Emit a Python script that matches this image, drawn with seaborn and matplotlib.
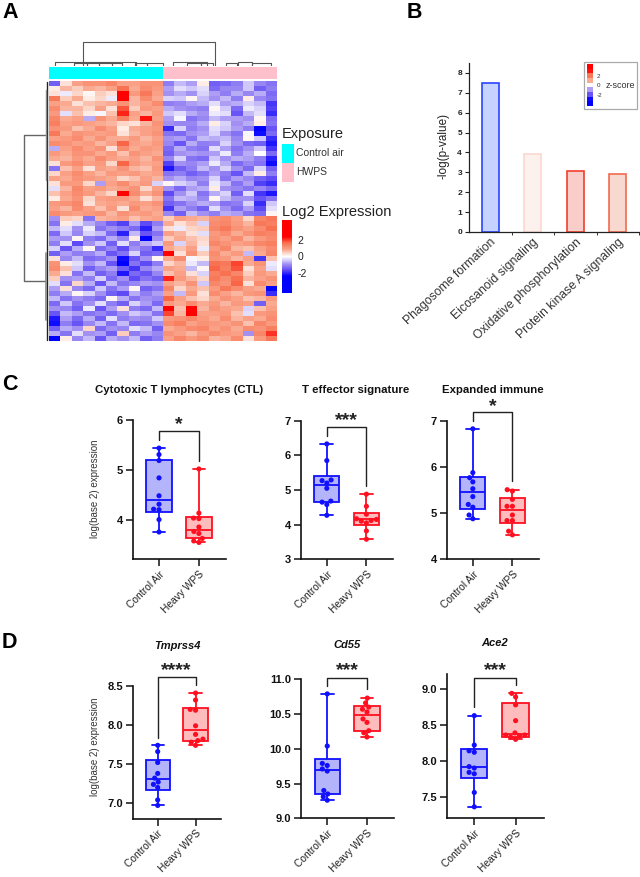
import matplotlib
matplotlib.use("Agg")
import numpy as np
import pandas as pd
import seaborn as sns
import matplotlib.pyplot as plt
from matplotlib.colors import LinearSegmentedColormap, ListedColormap
from matplotlib.patches import Rectangle

# panel A, log2 expression x10, one row per gene group
HEAT_UP_IN_AIR = [
    [-14, 3, 9, 11, 11, 13, 9, 9, 11, 11, -11, -6, -8, 2, -14, -13, -11, -5, -10, -12],
    [2, 7, 5, 8, 7, 9, 16, 8, 12, 10, -8, -3, -5, -3, -13, -10, -10, -5, -14, -11],
    [3, -2, 4, 1, 5, 3, 28, 10, 15, 9, -9, -7, -9, -4, -8, -11, -7, -10, -7, -13],
    [15, 5, 8, 2, 4, -2, 27, 7, 12, 8, -4, -5, 1, -6, -9, -6, -11, 2, -10, -12],
    [9, 8, 3, 6, 7, 8, 11, 7, 9, 12, -11, -10, -8, -7, -3, -8, -7, -4, -6, -18],
    [12, 7, 7, 4, 9, 3, 18, 5, 10, 9, -7, -9, -10, -11, 1, -5, -13, -2, -4, -17],
    [10, -3, 6, 2, -1, 6, 21, 9, 7, 10, -5, -3, -7, -9, -2, -3, -15, -6, -3, -19],
    [13, 8, 9, -7, 11, 8, 14, 8, 22, 9, -8, -1, -12, -10, -6, -8, -8, -9, 1, -13],
    [14, 9, 10, 9, 8, 7, 4, 3, 7, 11, -9, -10, -10, -7, 2, -4, -9, -7, 2, -12],
    [11, 10, 6, 8, 12, 9, 2, 8, 9, 10, -19, -4, -11, -9, -3, -5, -8, -11, -24, -15],
    [15, 8, 11, 10, 9, 10, 3, 7, 9, 11, -12, -13, -9, -8, -4, -9, -12, -1, -22, -13],
    [9, 10, 12, 8, 11, 8, 8, 10, 7, 9, -9, -8, -12, -6, -7, -6, -10, 1, -5, -19],
    [12, 11, 9, 10, 7, 9, 17, 9, 8, 10, -10, -15, -7, -11, -10, -4, -9, -13, -14, -21],
    [-7, 9, 12, 9, 11, 3, 12, 8, 10, 9, -13, -7, -11, -12, -3, -8, -12, -9, -5, -18],
    [10, 8, 11, 11, 8, 10, 6, 11, 9, 8, -14, -9, -8, -9, -8, -2, -11, -7, 0, -13],
    [8, 7, 10, 8, 12, 9, 8, 9, 7, 11, -10, -4, -12, -13, -5, -9, -7, -8, -11, -20],
    [3, 10, 12, 9, 10, 4, 17, 10, 8, 9, -17, -9, -10, -8, -2, -7, -13, -10, -12, -22],
    [-12, 6, 9, 3, 9, 8, 11, 7, 6, 10, -21, -14, -11, -6, -9, -4, -9, -13, -4, -14],
    [4, 9, 12, 9, 7, 10, 9, 10, 8, 9, -12, -11, -14, -12, -8, -11, -15, -6, 2, -11],
    [9, 8, 11, 10, 9, 8, 4, 6, 9, 7, -9, -7, -10, -9, -4, -12, -8, -10, -14, -16],
    [3, 10, 10, 4, -8, 9, 12, 8, 10, -4, 1, -4, -6, -11, -2, -6, -12, -8, -17, -19],
    [-3, 7, 13, 9, 10, 8, 9, 11, 4, 9, -9, -13, -8, -7, 2, -9, -10, -12, -10, -13],
    [6, 9, 12, 10, 7, 4, 23, 12, 8, 11, -16, -9, -5, -12, -7, -4, -14, -3, -18, -21],
    [2, 8, 11, 4, 9, 10, 10, 8, 3, 7, -12, -6, -7, -10, 1, -6, -9, -9, -15, -12],
    [10, 11, 13, 3, 8, 9, 8, 10, 9, 11, -14, -12, -9, -7, -8, -12, -11, -4, -19, -5],
    [9, 7, 12, 9, 6, 10, 3, 12, 8, 9, -18, -8, -11, -14, -3, -9, -13, -8, -16, -3],
    [12, 10, 9, 10, 11, 7, 11, 9, 10, 8, -10, -14, -6, -9, -11, -7, -8, -12, -13, 1],
]
HEAT_UP_IN_WPS = [
    [-9, 5, 4, -12, 7, 8, 9, 6, 8, 9, 5, 9, 8, 7, 11, 12, 9, 4, 13, 15],
    [-12, 2, -3, -7, -10, -14, -17, -8, -16, -11, 8, 3, 6, -4, 12, 13, 10, 7, 15, 14],
    [-6, -3, -9, -2, -12, -9, -11, -13, -20, -8, 3, -2, 4, 5, 13, 15, 11, 9, 12, 16],
    [-13, -5, -10, -4, -6, -13, -20, -6, -15, -12, 9, 7, 3, -3, 10, 12, 8, 11, 14, 13],
    [-8, -9, 1, -11, -13, -7, -10, 2, -23, -9, 5, 8, 6, 4, 11, 9, 12, 7, 10, 12],
    [-11, -3, -16, -9, -5, -14, -3, -11, -7, -5, 10, -4, 7, 3, 13, 11, 9, 10, 13, 14],
    [-4, -15, -7, 1, -13, -10, -16, -9, -12, -19, 8, 6, 9, -2, 10, 13, 7, 6, 9, 12],
    [-14, -8, -11, -10, -7, -15, -12, -4, -14, -13, 30, 3, 11, 5, 12, 8, 10, -6, 8, 13],
    [3, -10, -6, -13, -12, -9, -22, -15, -9, 1, 8, 12, -1, 2, 11, 10, 7, 9, -18, 6],
    [11, 2, -3, -9, -6, -15, -25, -12, -16, -11, 4, 7, -2, -6, 16, 15, 19, 8, 11, -2],
    [12, 6, -5, -14, -10, -8, -14, -18, -10, -7, 9, 8, -6, 1, 17, 14, 18, 3, 9, -3],
    [8, 3, -12, -6, -14, -11, -21, -13, -15, -10, 6, 9, 3, -4, 14, 16, 13, 5, 10, 8],
    [5, -9, -8, -11, -4, -13, -9, -16, -12, -14, 21, 10, 7, 4, 15, 12, 16, 7, 9, 11],
    [-3, -12, 4, -7, -15, -6, -12, -10, -8, -9, 9, 7, 11, -5, 13, 11, 17, 3, 12, 9],
    [-8, 3, -10, -13, -5, -12, -8, 1, -14, -12, 13, 4, 8, 6, 10, 15, 12, 9, 8, -23],
    [-11, -7, 1, -4, -9, -14, -16, -7, -11, -8, 9, -6, 10, 3, 12, 9, 7, 10, 11, -19],
    [-6, -12, -9, -11, -13, 1, -7, -12, -9, -10, 17, 9, 6, 4, 8, 11, 9, 6, 7, 10],
    [-13, -5, -12, -9, -3, -11, -14, -4, -8, -13, 10, 8, 12, 8, 10, 7, 10, 9, -14, 8],
    [-9, -10, -14, -2, -15, -8, 3, -11, -13, -6, 24, 6, 23, 7, 11, 9, 8, -4, 6, 9],
    [-15, -6, -8, -12, -10, -13, -9, -5, -7, -12, 19, 7, 25, 9, 9, 10, 6, -3, 10, 11],
    [-21, -8, -13, -7, -14, -3, -11, -9, -10, -5, 10, 11, 13, 10, 8, 12, 7, 9, 8, 12],
    [-22, -11, -15, -10, -6, -12, -6, -13, -12, -9, 12, 14, 9, 11, 10, 9, 11, 6, 13, 10],
    [-14, -7, -9, 4, -13, -9, -10, -3, -6, -14, 8, 10, 12, 13, 9, 11, 8, 12, 11, 14],
    [-7, -12, -3, -9, -8, -14, 5, -11, -8, -10, 11, 9, 7, 10, 12, 10, 9, -9, 13, 20],
    [-24, 2, -10, -6, -15, -7, -9, -6, -14, -11, 9, 13, 10, 12, 7, 8, 12, 3, 10, 15],
]
EXPOSURE_CODES = [[0] * 10 + [1] * 10]
EXPOSURE_LABELS = ["Control air", "HWPS"]

# panel A column tree: left, right and level of each bracket, in column units
TREE_LEFT = [3.0, 0.5, 2.2, 3.3, 4.4, 5.5, 7.5, 8.6, 10.9, 12.1, 13.3, 15.5, 16.6, 17.8]
TREE_RIGHT = [14.6, 5.5, 3.3, 4.4, 6.4, 7.6, 8.6, 10.0, 13.9, 13.3, 14.4, 16.5, 17.8, 19.5]
TREE_LEVEL = [24, 4, 3, 3, 3, 4, 3, 3, 4, 3, 3, 3, 4, 3]

# panel B
PATHWAYS = ["Phagosome formation", "Eicosanoid signaling",
            "Oxidative phosphorylation", "Protein kinase A signaling"]
LOG_P = [7.5, 3.93, 3.07, 2.92]
PATHWAY_FACES = ["#c6d2ff", "#fdf1ed", "#f9cdca", "#f7d9d0"]
PATHWAY_EDGES = ["#2b45ff", "#fbd8cf", "#f0402f", "#f2694f"]

# panels C and D: swarm points and min, q1, median, q3, max of each box
GROUPS = ["Control Air", "Heavy WPS"]

CTL_AIR = [5.44, 5.31, 5.19, 4.84, 4.48, 4.31, 4.21, 4.20, 4.00, 3.75]
CTL_WPS = [5.02, 4.13, 4.03, 4.02, 3.85, 3.76, 3.72, 3.62, 3.57, 3.54]
CTL_AIR_BOX = [3.75, 4.15, 4.40, 5.20, 5.44]
CTL_WPS_BOX = [3.54, 3.62, 3.80, 4.05, 5.02]

TEFF_AIR = [6.33, 5.85, 5.29, 5.27, 5.20, 5.05, 4.68, 4.65, 4.58, 4.27]
TEFF_WPS = [4.88, 4.53, 4.30, 4.17, 4.15, 4.12, 4.10, 4.05, 3.82, 3.58]
TEFF_AIR_BOX = [4.27, 4.65, 5.13, 5.41, 6.33]
TEFF_WPS_BOX = [3.58, 3.98, 4.15, 4.35, 4.88]

IMM_AIR = [6.83, 5.88, 5.77, 5.68, 5.53, 5.36, 5.19, 5.13, 4.96, 4.88]
IMM_WPS = [5.51, 5.48, 5.30, 5.15, 5.15, 4.96, 4.84, 4.84, 4.61, 4.53]
IMM_AIR_BOX = [4.88, 5.09, 5.45, 5.79, 6.83]
IMM_WPS_BOX = [4.53, 4.79, 5.07, 5.34, 5.51]

TMP_AIR = [7.74, 7.66, 7.52, 7.38, 7.32, 7.27, 7.24, 7.20, 7.04, 6.97]
TMP_WPS = [8.41, 8.32, 8.20, 8.19, 7.99, 7.88, 7.82, 7.80, 7.78, 7.74]
TMP_AIR_BOX = [6.97, 7.17, 7.31, 7.55, 7.74]
TMP_WPS_BOX = [7.74, 7.80, 7.94, 8.22, 8.41]

CD55_AIR = [10.79, 10.04, 9.79, 9.76, 9.71, 9.68, 9.40, 9.35, 9.31, 9.26]
CD55_WPS = [10.73, 10.66, 10.60, 10.57, 10.53, 10.43, 10.38, 10.26, 10.23, 10.17]
CD55_AIR_BOX = [9.26, 9.35, 9.70, 9.85, 10.79]
CD55_WPS_BOX = [10.17, 10.26, 10.48, 10.61, 10.73]

ACE2_AIR = [8.63, 8.22, 8.14, 8.12, 7.92, 7.90, 7.84, 7.82, 7.56, 7.36]
ACE2_WPS = [8.94, 8.89, 8.78, 8.56, 8.39, 8.36, 8.36, 8.35, 8.33, 8.30]
ACE2_AIR_BOX = [7.36, 7.76, 7.91, 8.16, 8.63]
ACE2_WPS_BOX = [8.30, 8.33, 8.37, 8.81, 8.94]

W, H = 640, 877
BLUE, RED = "#1010ff", "#ff1020"
BLUE_FILL, RED_FILL = "#b4b4fa", "#ffbcbc"

sns.set_theme(style="ticks")
plt.rcParams["font.family"] = ["Liberation Sans", "DejaVu Sans"]

fig = plt.figure(figsize=(W / 100, H / 100), dpi=100)


def px_axes(left, top, right, bottom):
    """Axes placed by pixel edges of the 640x877 picture."""
    return fig.add_axes([left / W, 1 - bottom / H, (right - left) / W, (bottom - top) / H])


# overlay in pixel units for the loose labels
page = fig.add_axes([0, 0, 1, 1], zorder=5)
page.set_xlim(0, W)
page.set_ylim(H, 0)
page.axis("off")
page.patch.set_alpha(0)

for letter, x, y in [("A", 2, 13), ("B", 407, 13), ("C", 2, 384), ("D", 2, 642)]:
    page.text(x, y, letter, fontsize=15.5, fontweight="bold", color="black", va="center")

# ---- panel A ----
heat_cmap = LinearSegmentedColormap.from_list(
    "expr",
    [(0, "#0000ff"), (0.23, "#0000ff"), (0.31, "#5c48f5"), (0.40, "#a594f3"), (0.44, "#cdc4fa"),
     (0.5, "#ffffff"), (0.56, "#fcc9b8"), (0.60, "#f9a288"), (0.69, "#f8704f"),
     (0.77, "#ff0000"), (1, "#ff0000")],
)
ax_heat = px_axes(49, 81, 277, 341)
ax_cbar = px_axes(282, 220, 292, 293)
matrix = np.array(HEAT_UP_IN_AIR + HEAT_UP_IN_WPS) / 10
sns.heatmap(matrix, ax=ax_heat, cbar_ax=ax_cbar, cmap=heat_cmap, vmin=-4.3, vmax=4.3,
            xticklabels=False, yticklabels=False, cbar_kws={"ticks": [-2, 0, 2]})
ax_cbar.tick_params(length=2.5, width=0.8, color="white", direction="in",
                    labelsize=7.5, labelcolor="#222222", pad=4)
ax_cbar.set_yticklabels(["-2", "0", "2"])

ax_ann = px_axes(49, 67, 277, 79)
sns.heatmap(np.array(EXPOSURE_CODES), ax=ax_ann, cmap=ListedColormap(["#00ffff", "#ffc0cb"]),
            cbar=False, xticklabels=False, yticklabels=False)

ax_tree = px_axes(49, 38, 277, 66)
ax_tree.set_xlim(0, 20)
ax_tree.set_ylim(0, 28)
ax_tree.axis("off")
for left, right, level in zip(TREE_LEFT, TREE_RIGHT, TREE_LEVEL):
    ax_tree.plot([left, left, right, right], [0, level, level, 0], color="#555555", lw=0.8)

page.plot([45, 24, 24, 45], [135, 135, 281, 281], color="#666666", lw=1)
page.plot([47, 47], [82, 340], color="#222222", lw=1)
page.plot([45.5, 45.5], [90, 180], color="#888888", lw=1)
page.plot([45.5, 45.5], [253, 320], color="#888888", lw=1.2)

page.text(282, 134, "Exposure", fontsize=10.5, color="#222222", va="center")
page.add_patch(Rectangle((282, 144), 12, 18.5, color="#00ffff", lw=0))
page.add_patch(Rectangle((282, 163), 12, 18.5, color="#ffc0cb", lw=0))
page.text(296, 153, EXPOSURE_LABELS[0], fontsize=7.5, color="#333333", va="center")
page.text(296, 172, EXPOSURE_LABELS[1], fontsize=7.5, color="#333333", va="center")
page.text(282, 212, "Log2 Expression", fontsize=10.5, color="#222222", va="center")

# ---- panel B ----
ax_bar = px_axes(469, 63, 639, 232)
sns.barplot(x=PATHWAYS, y=LOG_P, hue=PATHWAYS, palette=PATHWAY_FACES, legend=False,
            width=0.4, saturation=1, ax=ax_bar)
for patch, edge in zip(ax_bar.patches, PATHWAY_EDGES):
    patch.set_edgecolor(edge)
    patch.set_linewidth(1.2)
ax_bar.set_xlim(-0.5, 3.5)
ax_bar.set_ylim(0, 8.5)
ax_bar.set_yticks(range(9))
ax_bar.set_xticks([0.5, 1.5, 2.5, 3.5], minor=True)
ax_bar.tick_params(axis="x", which="major", length=0, pad=3)
ax_bar.tick_params(axis="x", which="minor", length=2, width=0.7, color="#333333")
ax_bar.tick_params(axis="y", length=3, width=0.8, color="#222222", pad=2)
for label in ax_bar.get_yticklabels():
    label.set(fontsize=6, fontweight="bold", color="#222222")
ax_bar.set_xticks(range(4))
ax_bar.set_xticklabels(PATHWAYS, rotation=43, ha="right", rotation_mode="anchor",
                       fontsize=8.8, color="#333333")
ax_bar.set_ylabel("")
sns.despine(ax=ax_bar)
for side in ("left", "bottom"):
    ax_bar.spines[side].set_linewidth(0.9)
    ax_bar.spines[side].set_color("#222222")
page.text(443, 146, "-log(p-value)", fontsize=8.5, rotation=90, ha="center", va="center",
          color="#222222")

page.add_patch(Rectangle((584, 61.5), 53, 47, fc="white", ec="#aaaaaa", lw=0.9))
ax_z = px_axes(587, 64, 593, 106)
sns.heatmap(np.array([[2.7], [2.2], [1.5], [0.8], [0], [-0.8], [-1.5], [-2.2], [-2.7]]),
            ax=ax_z, cmap=heat_cmap, vmin=-4.3, vmax=4.3, cbar=False,
            xticklabels=False, yticklabels=False)
ax_z.set_zorder(6)
for value, y in [("2", 76), ("0", 85.5), ("-2", 95.5)]:
    page.text(597, y, value, fontsize=4.5, color="#333333", va="center")
page.text(606, 85, "z-score", fontsize=6.5, color="#333333", va="center")


# ---- panels C and D ----
def box_panel(edges, ylim, yticks, air, wps, air_box, wps_box, title, title_xy, stars,
              bracket, star_y, italic=False, tick_format="{:g}"):
    ax = px_axes(*edges)
    for group, box, face, edge in ((GROUPS[0], air_box, BLUE_FILL, BLUE),
                                   (GROUPS[1], wps_box, RED_FILL, RED)):
        sns.boxplot(x=[group] * len(box), y=box, order=GROUPS, color=face, linecolor=edge,
                    saturation=1, width=0.64, linewidth=1.3, whis=(0, 100), ax=ax)
    points = pd.DataFrame({"group": [GROUPS[0]] * len(air) + [GROUPS[1]] * len(wps),
                           "value": air + wps})
    sns.swarmplot(data=points, x="group", y="value", hue="group", order=GROUPS,
                  palette=[BLUE, RED], size=3.7, legend=False, ax=ax, zorder=4)
    ax.set_xlim(-0.66, 1.68)
    ax.set_ylim(*ylim)
    ax.set_yticks(yticks)
    ax.set_yticklabels([tick_format.format(t) for t in yticks], fontsize=8,
                       fontweight="bold", color="#111111")
    ax.set_xticks([0, 1])
    ax.set_xticklabels(GROUPS, rotation=45, ha="right", rotation_mode="anchor",
                       fontsize=7.4, color="#222222")
    ax.set_xlabel("")
    ax.set_ylabel("")
    ax.tick_params(length=5, width=1.1, color="#111111", pad=2)
    sns.despine(ax=ax)
    for side in ("left", "bottom"):
        ax.spines[side].set_linewidth(1.2)
        ax.spines[side].set_color("#111111")

    top, left_end, right_end = bracket
    ax.plot([0, 0, 1, 1], [left_end, top, top, right_end], color="#222222", lw=1,
            clip_on=False, zorder=5)
    centre = edges[0] + (0.5 + 0.66) / 2.34 * (edges[2] - edges[0])
    page.text(centre, star_y, stars, fontsize=14, fontweight="bold", ha="center", va="center",
              color="#222222")
    page.text(*title_xy, title, fontsize=8.2 if not italic else 8, fontweight="bold", ha="center",
              va="center", color="#111111", style="italic" if italic else "normal")
    return ax


box_panel((132.7, 420.3, 226, 559.3), (3.2, 6), [4, 5, 6], CTL_AIR, CTL_WPS, CTL_AIR_BOX,
          CTL_WPS_BOX, "Cytotoxic T lymphocytes (CTL)", (179, 390), "*", (5.78, 5.60, 5.19), 425)
box_panel((300.7, 420.7, 393.3, 559.3), (3, 7), [3, 4, 5, 6, 7], TEFF_AIR, TEFF_WPS, TEFF_AIR_BOX,
          TEFF_WPS_BOX, "T effector signature", (356, 390), "***", (6.81, 6.56, 5.11), 421)
box_panel((446.7, 421, 539.3, 559.3), (4, 7), [4, 5, 6, 7], IMM_AIR, IMM_WPS, IMM_AIR_BOX,
          IMM_WPS_BOX, "Expanded immune", (493, 390), "*", (7.19, 7.01, 5.69), 407)
box_panel((132.7, 686, 221.3, 818.7), (6.8, 8.5), [7, 7.5, 8, 8.5], TMP_AIR, TMP_WPS, TMP_AIR_BOX,
          TMP_WPS_BOX, "Tmprss4", (177, 646), "****", (8.62, 7.84, 8.51), 671, True, "{:.1f}")
box_panel((301, 679.3, 394, 818.3), (9, 11), [9, 9.5, 10, 10.5, 11], CD55_AIR, CD55_WPS, CD55_AIR_BOX,
          CD55_WPS_BOX, "Cd55", (347, 645), "***", (11.02, 10.90, 10.86), 671, True, "{:.1f}")
box_panel((447, 674, 543.7, 818.3), (7.2, 9.21), [7.5, 8, 8.5, 9], ACE2_AIR, ACE2_WPS, ACE2_AIR_BOX,
          ACE2_WPS_BOX, "Ace2", (495, 643), "***", (9.16, 8.75, 9.05), 671, True, "{:.1f}")

page.text(95, 489, "log(base 2) expression", fontsize=7, rotation=90, ha="center", va="center",
          color="#333333")
page.text(95, 747, "log(base 2) expression", fontsize=7, rotation=90, ha="center", va="center",
          color="#333333")

fig.savefig("out.png", dpi=100)
